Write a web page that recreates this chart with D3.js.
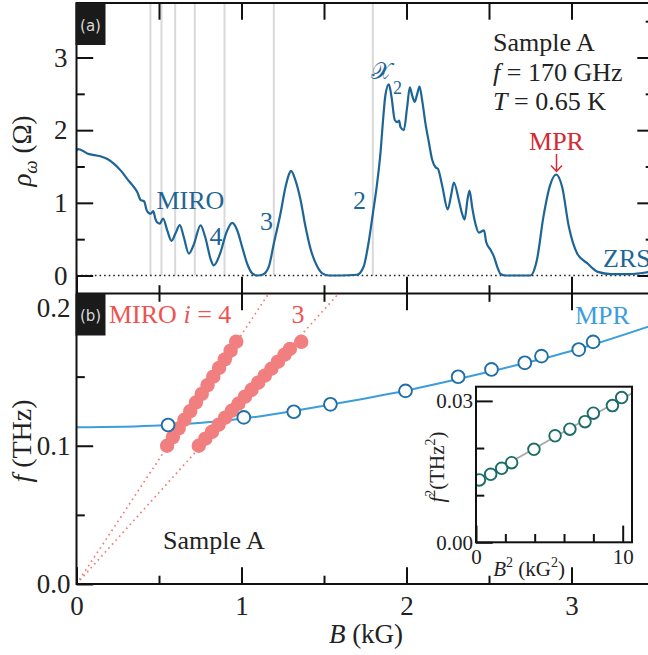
<!DOCTYPE html>
<html><head><meta charset="utf-8">
<script src="https://cdn.jsdelivr.net/npm/d3@7"></script>
<style>
html,body{margin:0;padding:0;background:#fff;}
svg{display:block;}
</style>
</head><body>
<div id="chart"></div>
<script>
// ---------------- DATA ----------------
// Panel (a): rho_omega vs B
const rhoB = [0.00,0.012,0.065,0.145,0.19,0.226,0.27,0.307,0.34,0.368,0.388,0.40,0.41,0.425,0.438,0.45,0.465,0.478,0.489,0.505,0.525,0.55,0.576,0.60,0.626,0.65,0.681,0.71,0.752,0.78,0.815,0.832,0.87,0.91,0.944,0.974,1.004,1.034,1.065,1.095,1.13,1.165,1.196,1.236,1.267,1.289,1.30,1.327,1.358,1.388,1.418,1.46,1.49,1.53,1.60,1.70,1.74,1.77,1.796,1.818,1.842,1.858,1.872,1.893,1.909,1.929,1.945,1.955,1.964,1.984,2.004,2.02,2.034,2.05,2.065,2.079,2.095,2.115,2.135,2.156,2.176,2.19,2.216,2.25,2.27,2.287,2.317,2.337,2.352,2.37,2.382,2.398,2.418,2.438,2.47,2.483,2.51,2.53,2.55,2.57,2.60,2.75,2.79,2.83,2.87,2.907,2.943,2.984,3.035,3.095,3.16,3.24,3.35,3.47];
const rhoVal = [1.72,1.74,1.68,1.64,1.60,1.54,1.44,1.33,1.24,1.15,1.04,1.03,1.02,0.90,0.86,0.85,0.885,0.78,0.73,0.715,0.784,0.62,0.476,0.58,0.692,0.53,0.30,0.42,0.69,0.53,0.21,0.14,0.30,0.60,0.724,0.623,0.393,0.165,0.028,0.0,0.014,0.118,0.44,0.85,1.22,1.40,1.44,1.31,1.04,0.67,0.37,0.12,0.03,0.0,0.0,0.01,0.12,0.45,0.85,1.20,1.68,2.14,2.48,2.63,2.46,2.14,2.11,2.13,2.04,2.00,2.32,2.59,2.48,2.39,2.50,2.60,2.41,2.09,1.84,1.59,1.49,1.47,1.24,0.91,1.10,1.28,1.04,0.85,0.77,1.05,1.17,0.94,0.71,0.59,0.62,0.46,0.35,0.26,0.12,0.02,0.0,0.0,0.21,0.81,1.24,1.39,1.22,0.67,0.30,0.17,0.05,0.02,0.02,0.05];
// grey reference lines (B positions, kG)
const refLinesB = [0.448,0.515,0.598,0.717,0.897,1.196,1.796];

// Panel (b): MIRO i=4 and i=3 peak positions
const miro4B = [0.549,0.584,0.619,0.654,0.689,0.724,0.759,0.794,0.829,0.864,0.899,0.934,0.968];
const miro4F = [0.100,0.1063,0.1125,0.1188,0.1250,0.1313,0.1375,0.1438,0.1500,0.1563,0.1625,0.1688,0.1753];
const miro3B = [0.741,0.781,0.821,0.861,0.901,0.941,0.981,1.021,1.061,1.101,1.141,1.181,1.221,1.261,1.293,1.362];
const miro3F = [0.100,0.1051,0.1101,0.1152,0.1203,0.1253,0.1304,0.1355,0.1405,0.1456,0.1507,0.1557,0.1608,0.1659,0.1700,0.1752];
// dotted guide lines through origin (end points)
const guide4 = [[0,0],[1.166,0.2103]];
const guide3 = [[0,0],[1.590,0.2103]];
// MPR points
const mprB = [0.555,1.014,1.317,1.539,1.994,2.313,2.515,2.717,2.818,3.044,3.131];
const mprF = [0.1150,0.1205,0.1246,0.1300,0.1397,0.1499,0.1552,0.1600,0.1648,0.1696,0.1751];
// MPR fit curve
const mprFitB = [0,0.5,1.0,1.5,2.0,2.5,3.0,3.5];
const mprFitF = [0.1133,0.1147,0.1195,0.1290,0.1400,0.1535,0.1685,0.1875];
// Inset: f^2 vs B^2
const insB2 = [0.23,1.00,1.75,2.43,3.95,5.39,6.40,7.43,8.00,9.30,9.93];
const insF2 = [0.01323,0.01443,0.01570,0.01689,0.01973,0.02260,0.02400,0.02560,0.02740,0.02900,0.03070];
const insFit = [[0,0.01287],[10.62,0.03163]];
// ticks
const xMajor = [0,1,2,3];
const xMinor = [0.5,1.5,2.5,3.5];
const yAMajor = [0,1,2,3];
const yAMinor = [0.5,1.5,2.5,3.5];
const yBMajor = [0,0.1,0.2];
const yBMinor = [0.05,0.15];
const insYMajor = [0,0.03];
const insYMinor = [0.01,0.02];
const insXMajor = [0,10];
const insXMinor = [2,4,6,8];

// ---------------- DRAW ----------------
const W = 648, H = 655;
const SERIF = "'Liberation Serif','Times New Roman',serif";
const svg = d3.select("#chart").append("svg").attr("width", W).attr("height", H)
  .style("font-family", SERIF);

const L = 76.5, R = 654, TOP = 3, MID = 293.5, BOT = 584;
const x = d3.scaleLinear().domain([0, 3.5]).range([L, R]);
const yA = d3.scaleLinear().domain([0, 3]).range([275.5, 57.5]);
const yB = d3.scaleLinear().domain([0, 0.2]).range([BOT, 307.5]);

const MAJ = 16.7, MIN = 8.3;
const cDark = "#1d6596", cRed = "#d42a32", cSalmon = "#f17f7f", cSalmonTxt = "#f05252",
      cMprPt = "#1f6ea8", cMprLine = "#3d9ddb", cTeal = "#1b6e67";

function styleAxis(g, fs) {
  g.select(".domain").remove();
  g.selectAll(".tick line").attr("stroke", "#111").attr("stroke-width", 2);
  g.attr("font-family", SERIF).attr("font-size", fs).attr("fill", "#222");
  g.selectAll(".tick text").attr("fill", "#222");
}

// clip paths
svg.append("clipPath").attr("id", "clipA").append("rect")
  .attr("x", L).attr("y", TOP).attr("width", R - L).attr("height", MID - TOP);
svg.append("clipPath").attr("id", "clipB").append("rect")
  .attr("x", L).attr("y", MID).attr("width", R - L).attr("height", BOT - MID);

// ---------- Panel (a) ----------
const gA = svg.append("g").attr("clip-path", "url(#clipA)");
gA.selectAll(".ref").data(refLinesB).enter().append("line")
  .attr("x1", d => x(d)).attr("x2", d => x(d))
  .attr("y1", TOP).attr("y2", yA(0))
  .attr("stroke", "#d9d9d9").attr("stroke-width", 2);
gA.append("line").attr("x1", L).attr("x2", R).attr("y1", yA(0)).attr("y2", yA(0))
  .attr("stroke", "#222").attr("stroke-width", 1.6).attr("stroke-dasharray", "1.6,3");
const rhoData = rhoB.map((b, i) => [b, rhoVal[i]]);
gA.append("path").datum(rhoData)
  .attr("d", d3.line().x(d => x(d[0])).y(d => yA(d[1])).curve(d3.curveMonotoneX))
  .attr("fill", "none").attr("stroke", cDark).attr("stroke-width", 2.2);

// axes panel (a)
styleAxis(svg.append("g").attr("transform", `translate(${L},0)`)
  .call(d3.axisLeft(yA).tickValues(yAMajor).tickSize(-MAJ).tickPadding(9).tickFormat(d3.format("d"))), 27);
styleAxis(svg.append("g").attr("transform", `translate(${L},0)`)
  .call(d3.axisLeft(yA).tickValues(yAMinor).tickSize(-MIN).tickFormat("")), 27);
styleAxis(svg.append("g").attr("transform", `translate(${R},0)`)
  .call(d3.axisRight(yA).tickValues(yAMajor).tickSize(-MAJ).tickFormat("")), 27);
styleAxis(svg.append("g").attr("transform", `translate(${R},0)`)
  .call(d3.axisRight(yA).tickValues(yAMinor).tickSize(-MIN).tickFormat("")), 27);
styleAxis(svg.append("g").attr("transform", `translate(0,${TOP})`)
  .call(d3.axisTop(x).tickValues(xMajor.concat(xMinor)).tickSize(-MAJ).tickFormat("")), 27);
styleAxis(svg.append("g").attr("transform", `translate(0,${MID})`)
  .call(d3.axisBottom(x).tickValues(xMajor).tickSize(-MAJ).tickFormat("")), 27);
styleAxis(svg.append("g").attr("transform", `translate(0,${MID})`)
  .call(d3.axisBottom(x).tickValues(xMinor).tickSize(-MIN).tickFormat("")), 27);

// ---------- Panel (b) ----------
const gB = svg.append("g").attr("clip-path", "url(#clipB)");
const lineXY = d3.line().x(d => x(d[0])).y(d => yB(d[1]));
[guide4, guide3].forEach(g => {
  gB.append("path").datum(g).attr("d", lineXY)
    .attr("fill", "none").attr("stroke", cSalmon).attr("stroke-width", 1.7)
    .attr("stroke-dasharray", "1.7,3.6");
});
const mprFit = mprFitB.map((b, i) => [b, mprFitF[i]]);
gB.append("path").datum(mprFit)
  .attr("d", d3.line().x(d => x(d[0])).y(d => yB(d[1])).curve(d3.curveMonotoneX))
  .attr("fill", "none").attr("stroke", cMprLine).attr("stroke-width", 2);
gB.selectAll(".m4").data(miro4B.map((b, i) => [b, miro4F[i]])).enter().append("circle")
  .attr("cx", d => x(d[0])).attr("cy", d => yB(d[1])).attr("r", 7.2).attr("fill", cSalmon);
gB.selectAll(".m3").data(miro3B.map((b, i) => [b, miro3F[i]])).enter().append("circle")
  .attr("cx", d => x(d[0])).attr("cy", d => yB(d[1])).attr("r", 7.2).attr("fill", cSalmon);
gB.selectAll(".mpr").data(mprB.map((b, i) => [b, mprF[i]])).enter().append("circle")
  .attr("cx", d => x(d[0])).attr("cy", d => yB(d[1])).attr("r", 6.4)
  .attr("fill", "#fff").attr("stroke", cMprPt).attr("stroke-width", 1.9);

// axes panel (b)
styleAxis(svg.append("g").attr("transform", `translate(${L},0)`)
  .call(d3.axisLeft(yB).tickValues(yBMajor).tickSize(-MAJ).tickPadding(6).tickFormat(d3.format(".1f"))), 27);
styleAxis(svg.append("g").attr("transform", `translate(${L},0)`)
  .call(d3.axisLeft(yB).tickValues(yBMinor).tickSize(-MIN).tickFormat("")), 27);
styleAxis(svg.append("g").attr("transform", `translate(0,${MID})`)
  .call(d3.axisTop(x).tickValues(xMajor).tickSize(-MAJ).tickFormat("")), 27);
styleAxis(svg.append("g").attr("transform", `translate(0,${MID})`)
  .call(d3.axisTop(x).tickValues(xMinor).tickSize(-MIN).tickFormat("")), 27);
styleAxis(svg.append("g").attr("transform", `translate(0,${BOT})`)
  .call(d3.axisBottom(x).tickValues(xMajor).tickSize(-MAJ).tickPadding(12).tickFormat(d3.format("d"))), 27);
styleAxis(svg.append("g").attr("transform", `translate(0,${BOT})`)
  .call(d3.axisBottom(x).tickValues(xMinor).tickSize(-MIN).tickFormat("")), 27);

// frame
const frame = svg.append("g").attr("stroke", "#111").attr("stroke-width", 2).attr("fill", "none");
frame.append("path").attr("d", `M${L},${TOP}H${R}V${BOT}H${L}Z`);
frame.append("line").attr("x1", L).attr("x2", R).attr("y1", MID).attr("y2", MID);

// panel tags
[["(a)", TOP, 31], ["(b)", MID, 321]].forEach(([t, y0, yb]) => {
  svg.append("rect").attr("x", L - 1).attr("y", y0).attr("width", 30).attr("height", 42).attr("fill", "#1a1a1a");
  svg.append("text").attr("x", L + 14).attr("y", yb).attr("text-anchor", "middle")
    .attr("font-family", "'DejaVu Sans',sans-serif").attr("font-size", 15).attr("fill", "#d8d8d8").text(t);
});

// ---------- Inset ----------
const iL = 476, iR = 632, iT = 386.7, iB = 542.3;
const xi = d3.scaleLinear().domain([0, 10]).range([iL, 622.7]);
const yi = d3.scaleLinear().domain([0, 0.03]).range([iB, 400.9]);
const gI = svg.append("g");
gI.append("rect").attr("x", iL).attr("y", iT).attr("width", iR - iL).attr("height", iB - iT).attr("fill", "#fff");
gI.append("clipPath").attr("id", "clipI").append("rect").attr("x", iL).attr("y", iT).attr("width", iR - iL).attr("height", iB - iT);
const gIc = gI.append("g").attr("clip-path", "url(#clipI)");
gIc.append("path").datum(insFit).attr("d", d3.line().x(d => xi(d[0])).y(d => yi(d[1])))
  .attr("stroke", "#a8a8a8").attr("stroke-width", 1.8).attr("fill", "none");
gIc.selectAll(".ip").data(insB2.map((b, i) => [b, insF2[i]])).enter().append("circle")
  .attr("cx", d => xi(d[0])).attr("cy", d => yi(d[1])).attr("r", 5.8)
  .attr("fill", "#fff").attr("stroke", cTeal).attr("stroke-width", 1.9);
styleAxis(gI.append("g").attr("transform", `translate(${iL},0)`)
  .call(d3.axisLeft(yi).tickValues(insYMajor).tickSize(-MAJ).tickPadding(3).tickFormat(d3.format(".2f"))), 21);
styleAxis(gI.append("g").attr("transform", `translate(${iL},0)`)
  .call(d3.axisLeft(yi).tickValues(insYMinor).tickSize(-MIN).tickFormat("")), 21);
styleAxis(gI.append("g").attr("transform", `translate(0,${iB})`)
  .call(d3.axisBottom(xi).tickValues(insXMajor).tickSize(-MAJ).tickPadding(7).tickFormat(d3.format("d"))), 21);
styleAxis(gI.append("g").attr("transform", `translate(0,${iB})`)
  .call(d3.axisBottom(xi).tickValues(insXMinor).tickSize(-MIN).tickFormat("")), 21);
gI.append("rect").attr("x", iL).attr("y", iT).attr("width", iR - iL).attr("height", iB - iT)
  .attr("fill", "none").attr("stroke", "#111").attr("stroke-width", 2);

// ---------- Texts ----------
function txt(xp, yp, color, size, parts, anchor) {
  const t = svg.append("text").attr("x", xp).attr("y", yp).attr("fill", color)
    .attr("font-size", size).attr("text-anchor", anchor || "start");
  parts.forEach(p => {
    const s = t.append("tspan").text(p.t);
    if (p.i) s.attr("font-style", "italic");
    if (p.dy) s.attr("dy", p.dy);
    if (p.fs) s.attr("font-size", p.fs);
  });
  return t;
}
// panel (a)
txt(493, 51, "#222", 26, [{t: "Sample A"}]);
txt(493, 81, "#222", 26, [{t: "f", i: 1}, {t: " = 170 GHz"}]);
txt(493, 110, "#222", 26, [{t: "T", i: 1}, {t: " = 0.65 K"}]);
txt(556.5, 150, cRed, 26, [{t: "MPR"}], "middle");
svg.append("path").attr("d", "M556.5,154V171.5M551,165.5L556.5,171.5L562,165.5")
  .attr("stroke", cRed).attr("stroke-width", 1.5).attr("fill", "none");
txt(156.5, 208.5, cDark, 26, [{t: "MIRO"}]);
txt(209.5, 245, cDark, 26, [{t: "4"}]);
txt(260, 230, cDark, 26, [{t: "3"}]);
txt(353, 208.5, cDark, 26, [{t: "2"}]);
txt(371, 79, cDark, 24, [{t: "𝒳"}]);
txt(393, 94, cDark, 18, [{t: "2"}]);
txt(603, 267, cDark, 26, [{t: "ZRS"}]);
// y label (a)
const yla = svg.append("text").attr("transform", "translate(31,151) rotate(-90)")
  .attr("text-anchor", "middle").attr("font-size", 27).attr("fill", "#222");
yla.append("tspan").attr("font-style", "italic").text("ρ");
yla.append("tspan").attr("font-style", "italic").attr("font-size", 19).attr("dy", 6).text("ω");
yla.append("tspan").attr("dy", -6).text(" (Ω)");

// panel (b)
txt(109, 323, cSalmonTxt, 26, [{t: "MIRO "}, {t: "i", i: 1}, {t: " = 4"}]);
txt(291.5, 323, cSalmonTxt, 26, [{t: "3"}]);
txt(575, 324, cMprLine, 26, [{t: "MPR"}]);
txt(163, 549, "#222", 26, [{t: "Sample A"}]);
const ylb = svg.append("text").attr("transform", "translate(31,441) rotate(-90)")
  .attr("text-anchor", "middle").attr("font-size", 28).attr("fill", "#222");
ylb.append("tspan").attr("font-style", "italic").text("f");
ylb.append("tspan").text(" (THz)");
const xl = svg.append("text").attr("x", 366).attr("y", 643).attr("text-anchor", "middle")
  .attr("font-size", 27).attr("fill", "#222");
xl.append("tspan").attr("font-style", "italic").text("B");
xl.append("tspan").text(" (kG)");

// inset labels
const ily = svg.append("text").attr("transform", "translate(444,467) rotate(-90)")
  .attr("text-anchor", "middle").attr("font-size", 21).attr("fill", "#222");
ily.append("tspan").attr("font-style", "italic").text("f");
ily.append("tspan").attr("font-size", 14).attr("dy", -9).text("2");
ily.append("tspan").attr("dy", 9).text("(THz");
ily.append("tspan").attr("font-size", 14).attr("dy", -9).text("2");
ily.append("tspan").attr("dy", 9).text(")");
const ilx = svg.append("text").attr("x", 529).attr("y", 576).attr("text-anchor", "middle")
  .attr("font-size", 21).attr("fill", "#222");
ilx.append("tspan").attr("font-style", "italic").text("B");
ilx.append("tspan").attr("font-size", 14).attr("dy", -9).text("2");
ilx.append("tspan").attr("dy", 9).text(" (kG");
ilx.append("tspan").attr("font-size", 14).attr("dy", -9).text("2");
ilx.append("tspan").attr("dy", 9).text(")");
</script>
</body></html>
